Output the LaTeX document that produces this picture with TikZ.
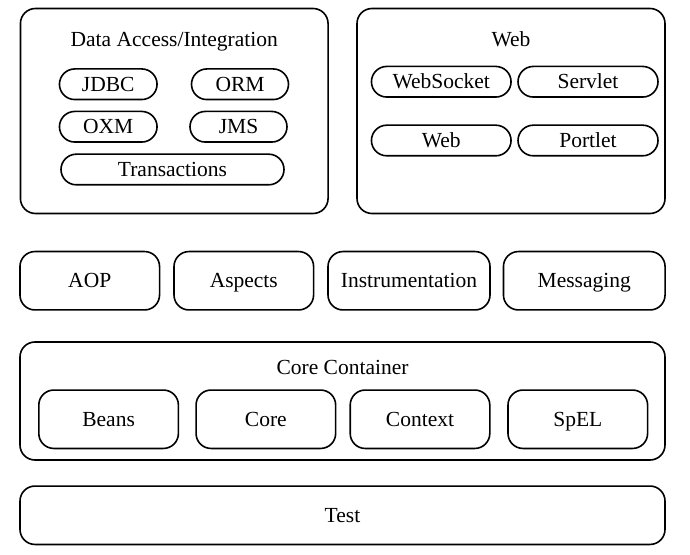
\documentclass[tikz,border=0pt]{standalone}
\usepackage{fontspec}
\setmainfont{Liberation Serif}
\usetikzlibrary{shapes.misc}
\begin{document}
\begin{tikzpicture}[x=0.5pt,y=-0.5pt,
  every node/.style={font=\fontsize{10.75pt}{13pt}\selectfont, text height=9pt, text depth=2pt, inner sep=0pt},
  group/.style={draw, line width=0.8pt, rounded corners=7.5pt},
  pill/.style={draw, line width=0.8pt, rounded rectangle, minimum height=15.3pt},
  modbox/.style={draw, line width=0.8pt, rounded corners=7.5pt, minimum width=69.8pt, minimum height=29.2pt}]
\useasboundingbox (0,0) rectangle (690,555);
% data access / integration
\node[group, minimum width=153.8pt, minimum height=102.5pt, text height=0pt, text depth=0pt] (data) at (174.25,111) {};
\node (datatitle) at (174.25,40) {Data Access/Integration};
\node[pill, minimum width=48.8pt] (jdbc) at (108.25,84.25) {JDBC};
\node[pill, minimum width=48.5pt] (orm) at (240,84.25) {ORM};
\node[pill, minimum width=48.8pt] (oxm) at (108.25,126.75) {OXM};
\node[pill, minimum width=48.5pt] (jms) at (238.5,126.75) {JMS};
\node[pill, minimum width=111.5pt] (tx) at (172.5,169.5) {Transactions};
% web
\node[group, minimum width=154pt, minimum height=102.5pt, text height=0pt, text depth=0pt] (web) at (511,111) {};
\node (webtitle) at (511,40) {Web};
\node[pill, minimum width=69.8pt] (socket) at (441.25,81.75) {WebSocket};
\node[pill, minimum width=70pt] (servlet) at (588,81.75) {Servlet};
\node[pill, minimum width=69.8pt] (webmod) at (441.25,140.5) {Web};
\node[pill, minimum width=70pt] (portlet) at (588,140.5) {Portlet};
% middle row
\node[modbox] (aop) at (89.75,280.75) {AOP};
\node[modbox] (aspects) at (243.8,280.75) {Aspects};
\node[modbox, minimum width=81pt] (instr) at (409,280.75) {Instrumentation};
\node[modbox, minimum width=80.8pt] (msg) at (584.25,280.75) {Messaging};
% core container
\node[group, minimum width=322.5pt, minimum height=59pt, text height=0pt, text depth=0pt] (core) at (342.5,401) {};
\node (coretitle) at (342.5,367) {Core Container};
\node[modbox] (beans) at (108.6,419.25) {Beans};
\node[modbox] (coremod) at (265.85,419.25) {Core};
\node[modbox] (context) at (420,419.25) {Context};
\node[modbox] (spel) at (577.8,419.25) {SpEL};
% test
\node[modbox, minimum width=322.5pt] (test) at (342.5,515.25) {Test};
\end{tikzpicture}
\end{document}
